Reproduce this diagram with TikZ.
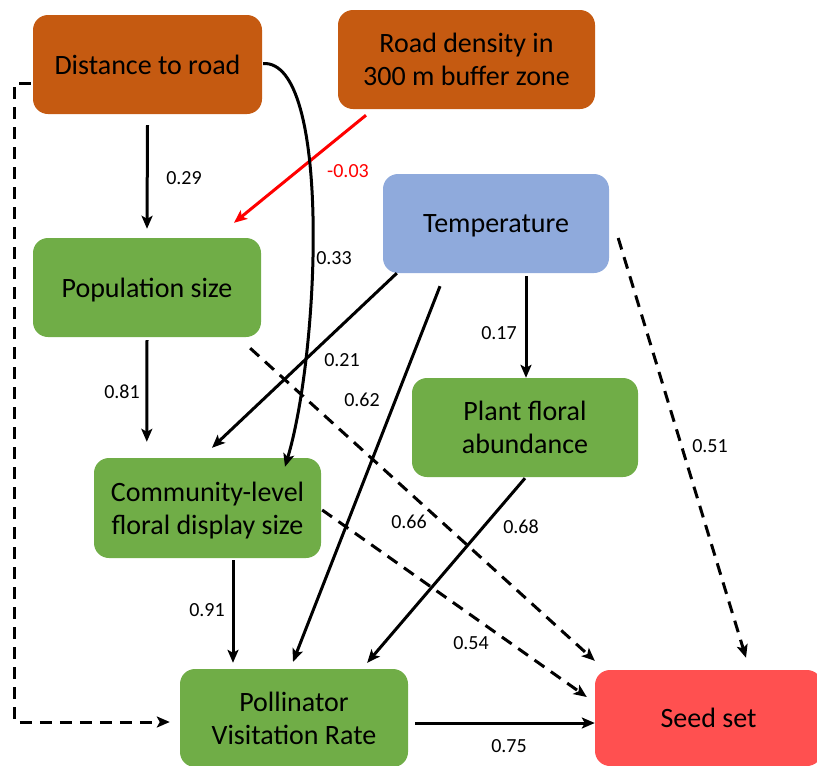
\documentclass[tikz,border=0pt]{standalone}
\usepackage{fontspec}
\setmainfont{Carlito}
\usetikzlibrary{arrows.meta}
\definecolor{cOrange}{HTML}{C55A11}
\definecolor{cGreen}{HTML}{70AD47}
\definecolor{cBlue}{HTML}{8FAADC}
\definecolor{cSeed}{HTML}{FF5050}
\tikzset{
  box/.style={rounded corners=15pt, inner sep=0pt, align=center,
    font=\fontsize{28}{33}\selectfont, text=black, text depth=0pt},
  arr/.style={line width=3pt, -{Stealth[length=13pt,width=11pt,inset=3pt]}},
  dsh/.style={arr, dash pattern=on 12pt off 8pt},
  lab/.style={font=\fontsize{20}{24}\selectfont, inner sep=0pt}
}
\begin{document}
\begin{tikzpicture}[x=1pt,y=-1pt]
\useasboundingbox (0,0) rectangle (817,766);
% boxes
\node[box, fill=cOrange, minimum width=229pt, minimum height=99pt] (dist) at (147.5,64.5) {Distance to road};
\node[box, fill=cOrange, minimum width=257pt, minimum height=99pt] (road) at (466.5,59.5) {Road density in\\300 m buffer zone};
\node[box, fill=cBlue, minimum width=226pt, minimum height=99pt] (temp) at (496,223.5) {Temperature};
\node[box, fill=cGreen, minimum width=228pt, minimum height=99pt] (pop) at (147,287.5) {Population size};
\node[box, fill=cGreen, minimum width=226pt, minimum height=99pt] (plant) at (525,427.5) {Plant floral\\abundance};
\node[box, fill=cGreen, minimum width=227pt, minimum height=100pt] (comm) at (207.5,508) {Community-level\\floral display size};
\node[box, fill=cGreen, minimum width=228pt, minimum height=98pt] (poll) at (294,718) {Pollinator\\Visitation Rate};
\node[box, fill=cSeed, minimum width=227pt, minimum height=96pt] (seed) at (708.5,718) {Seed set};
% connectors
\draw[arr] ([shift={(0,11)}]dist.south) -- ([shift={(0,-9)}]pop.north);
\draw[arr, red] ([shift={(-100.5,6)}]road.south) -- ([shift={(87,-15)}]pop.north);
\draw[arr] ([shift={(1,-1)}]dist.east) .. controls +(68,-3.5) and +(35,-117) .. ([shift={(77.5,9)}]comm.north);
\draw[dsh] ([shift={(-2,18.5)}]dist.west) -- ++(-16,0) |- ([shift={(-10,4)}]poll.west);
\draw[arr] ([shift={(0,3)}]pop.south) -- ([shift={(53,-16)}]comm.north west);
\draw[arr] ([shift={(14,0)}]temp.south west) -- ([shift={(4.5,-10)}]comm.north);
\draw[arr] ([shift={(-56,13)}]temp.south) -- ([shift={(-1,-7)}]poll.north);
\draw[arr] ([shift={(30,3)}]temp.south) -- ([shift={(1,0)}]plant.north);
\draw[dsh] ([shift={(-11,11)}]pop.south east) -- ([shift={(0,-9)}]seed.north west);
\draw[dsh] ([shift={(1,2)}]comm.east) -- ([shift={(-8,-21)}]seed.west);
\draw[dsh] ([shift={(9,14.5)}]temp.east) -- ([shift={(37.5,-12)}]seed.north);
\draw[arr] ([shift={(0,1)}]plant.south) -- ([shift={(-41,-6)}]poll.north east);
\draw[arr] ([shift={(25.5,2)}]comm.south) -- ([shift={(-61,-6)}]poll.north);
\draw[arr] ([shift={(7,5)}]poll.east) -- ([shift={(0,5)}]seed.west);
% labels
\node[lab] (l1) at (184,178) {0.29};
\node[lab, text=red] (l2) at (348,171) {-0.03};
\node[lab] (l3) at (334,258) {0.33};
\node[lab] (l4) at (122,392) {0.81};
\node[lab] (l5) at (342,360) {0.21};
\node[lab] (l6) at (362,400) {0.62};
\node[lab] (l7) at (499,333) {0.17};
\node[lab] (l8) at (710,446) {0.51};
\node[lab] (l9) at (409,522) {0.66};
\node[lab] (l10) at (521,527) {0.68};
\node[lab] (l11) at (207,610) {0.91};
\node[lab] (l12) at (471,643) {0.54};
\node[lab] (l13) at (509,746) {0.75};
\end{tikzpicture}
\end{document}
